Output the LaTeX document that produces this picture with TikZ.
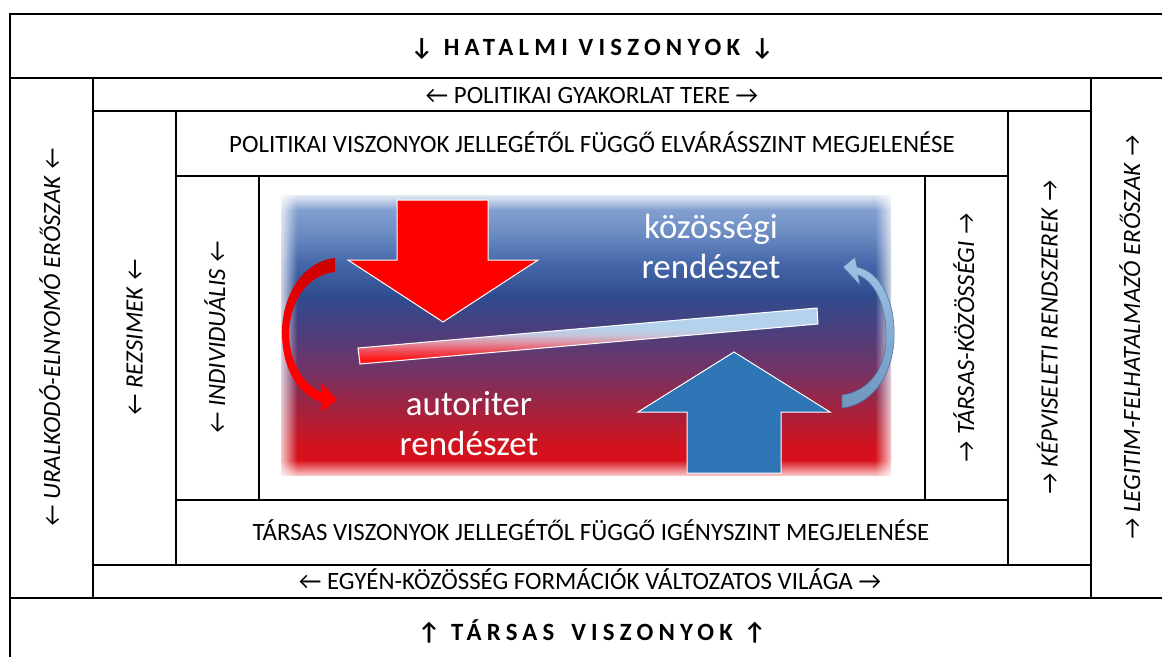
\documentclass[tikz,border=0pt]{standalone}
\usepackage{fontspec}
\setmainfont{Carlito}
\newfontfamily\spacedfont[LetterSpace=21]{Carlito}
\usetikzlibrary{fadings}
\definecolor{bx1}{HTML}{8FAAD6}
\definecolor{bx2}{HTML}{6F8FC5}
\definecolor{bx3}{HTML}{4466A8}
\definecolor{bx4}{HTML}{2F4C8E}
\definecolor{bx5}{HTML}{4A3F7E}
\definecolor{bx6}{HTML}{733466}
\definecolor{bx7}{HTML}{A5223E}
\definecolor{bx8}{HTML}{D0131F}
\definecolor{bx9}{HTML}{DF0E18}
\pgfdeclareverticalshading{boxsh}{100bp}{color(0bp)=(bx9); color(25bp)=(bx9); color(30.4bp)=(bx8); color(36.6bp)=(bx7); color(43.75bp)=(bx6); color(50.9bp)=(bx5); color(57.1bp)=(bx4); color(62.5bp)=(bx3); color(68.75bp)=(bx2); color(75bp)=(bx1); color(100bp)=(bx1)}
\definecolor{br1}{HTML}{FF1A1A}
\definecolor{br2}{HTML}{EE4E5A}
\definecolor{br3}{HTML}{DC98A8}
\definecolor{br4}{HTML}{C5C6DC}
\definecolor{br5}{HTML}{B5D2EC}
\pgfdeclareverticalshading{barsh}{100bp}{color(0bp)=(br1); color(30bp)=(br1); color(37bp)=(br2); color(45bp)=(br3); color(51bp)=(br4); color(57bp)=(br5); color(100bp)=(br5)}
\definecolor{redarrow}{HTML}{FF0000}
\definecolor{darkred}{HTML}{C80000}
\definecolor{bluearrow}{HTML}{2E75B6}
\definecolor{curvebluetop}{HTML}{9DC3E6}
\definecolor{curvebluebot}{HTML}{6F96BF}
\definecolor{curveblueline}{HTML}{4A78A8}
\tikzfading[name=fadeR, left color=transparent!0, right color=transparent!100]
\tikzfading[name=fadeL, left color=transparent!100, right color=transparent!0]
\tikzfading[name=fadeD, top color=transparent!0, bottom color=transparent!100]
\tikzfading[name=fadeU, top color=transparent!100, bottom color=transparent!0]
\tikzset{
  frame/.style={draw=black, line width=2.2pt},
  bandtxt/.style={inner sep=0pt, font=\fontsize{24.9}{29}\selectfont, text height=16pt, text depth=0pt},
  vtxt/.style={bandtxt, rotate=90, font=\fontsize{24.9}{29}\selectfont\itshape},
  titletxt/.style={bandtxt, font=\spacedfont\bfseries\fontsize{24.8}{29}\selectfont},
  bigtxt/.style={inner sep=0pt, text=white, align=center, font=\fontsize{35}{40}\selectfont},
  blockarrow/.style={draw=white, line width=1pt},
}
\begin{document}
\begin{tikzpicture}[x=1pt,y=-1pt]
\useasboundingbox (0,0) rectangle (1162,656);
\clip (0,0) rectangle (1162,656);
\fill[white] (0,0) rectangle (1162,656);

% central shaded field with soft edges
\shade[shading=boxsh] (281,195) rectangle (891,475);
\fill[white, path fading=fadeR] (276,190) rectangle (297,480);
\fill[white, path fading=fadeL] (875,190) rectangle (896,480);
\fill[white, path fading=fadeD] (276,190) rectangle (896,210);
\fill[white, path fading=fadeU] (276,460) rectangle (896,480);

% frames
\draw[frame] (10,14) rectangle (1173,662);
\draw[frame] (10,78) -- (1173,78);
\draw[frame] (10,598) -- (1173,598);
\draw[frame] (93,78) -- (93,598);
\draw[frame] (1091,78) -- (1091,598);
\draw[frame] (93,111) -- (1091,111);
\draw[frame] (93,565) -- (1091,565);
\draw[frame] (176,111) -- (176,565);
\draw[frame] (1008,111) -- (1008,565);
\draw[frame] (176,176) -- (1008,176);
\draw[frame] (176,500) -- (1008,500);
\draw[frame] (259,176) -- (259,500);
\draw[frame] (925,176) -- (925,500);

% band texts
\node[titletxt] (hatalmi) at (592,47) {↓ HATALMI VISZONYOK ↓};
\node[bandtxt] (gyakorlat) at (592,95) {← POLITIKAI GYAKORLAT TERE →};
\node[bandtxt] (polviszony) at (592,144) {POLITIKAI VISZONYOK JELLEGÉTŐL FÜGGŐ ELVÁRÁSSZINT MEGJELENÉSE};
\node[bandtxt] (tarsviszony) at (591,532) {TÁRSAS VISZONYOK JELLEGÉTŐL FÜGGŐ IGÉNYSZINT MEGJELENÉSE};
\node[bandtxt] (egyen) at (590,581) {← EGYÉN-KÖZÖSSÉG FORMÁCIÓK VÁLTOZATOS VILÁGA →};
\node[titletxt] (tarsas) at (592,632) {↑ TÁRSAS\hspace{6pt} VISZONYOK ↑};

% vertical texts
\node[vtxt] (uralkodo) at (52,338) {← URALKODÓ-ELNYOMÓ ERŐSZAK ←};
\node[vtxt] (rezsimek) at (134.5,338) {← REZSIMEK ←};
\node[vtxt] (individ) at (217,338) {← INDIVIDUÁLIS ←};
\node[vtxt] (tarskoz) at (966,338) {→ TÁRSAS-KÖZÖSSÉGI →};
\node[vtxt] (kepvis) at (1049.5,338) {→ KÉPVISELETI RENDSZEREK →};
\node[vtxt] (legitim) at (1132,338) {→ LEGITIM-FELHATALMAZÓ ERŐSZAK →};

% big down arrow (red)
\fill[redarrow, blockarrow] (397,200) -- (488,200) -- (488,260) -- (538,260) -- (443,322) -- (348,260) -- (397,260) -- cycle;
% big up arrow (blue)
\fill[bluearrow, blockarrow] (687,473) -- (781,473) -- (781,412) -- (830,412) -- (734,352) -- (638,412) -- (687,412) -- cycle;

% tilted bar
\shade[shading=barsh, draw=white, line width=1pt] (358,348) -- (817,308) -- (818,324) -- (360,364) -- cycle;

% curved arrows
\shade[top color=darkred, bottom color=redarrow, middle color=redarrow] (335,258) .. controls (300,262) and (281,300) .. (282,335)
  .. controls (283,372) and (300,395) .. (321,402) -- (322,411) -- (337,400) -- (322,383) -- (321,392)
  .. controls (303,385) and (290,362) .. (289,335) .. controls (289,305) and (305,275) .. (335,272) -- cycle;
\shade[top color=curvebluetop, bottom color=curvebluebot, draw=curveblueline, line width=0.6pt] (842,395) .. controls (866,392) and (885,372) .. (886,340)
  .. controls (887,308) and (876,282) .. (858,275) -- (860,285) -- (843,267) -- (855,257) -- (857,267)
  .. controls (882,272) and (896,305) .. (894,340) .. controls (892,378) and (870,405) .. (842,408) -- cycle;

% big labels
\node[bigtxt] (kozossegi) at (711,246.5) {közösségi\\rendészet};
\node[bigtxt] (autoriter) at (469,423.5) {autoriter\\rendészet};
\end{tikzpicture}
\end{document}
